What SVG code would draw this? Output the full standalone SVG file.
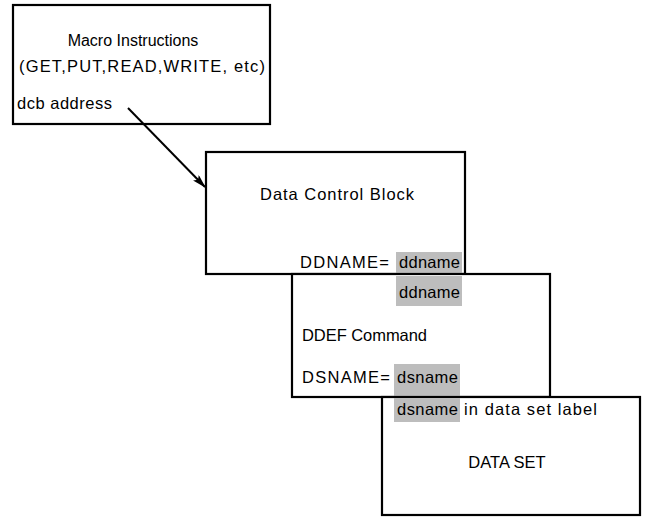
<svg xmlns="http://www.w3.org/2000/svg" width="645" height="518" viewBox="0 0 645 518">
<style>
.box{fill:#fff;stroke:#000;stroke-width:2.2}
.t{font-family:"Liberation Sans",Arial,sans-serif;font-size:16.5px;fill:#000}
.s{font-size:16px}
.hl{fill:#bdbdbd}
.c{stroke:#000;stroke-width:2;fill:none}
</style>
<defs>
<marker id="ah" markerWidth="14" markerHeight="8" refX="13" refY="4" orient="auto" markerUnits="userSpaceOnUse">
<path d="M0,0 L14,4 L0,8 L3,4 Z" fill="#000"/>
</marker>
</defs>
<rect width="645" height="518" fill="#fff"/>
<g id="macro">
<rect class="box" x="13" y="5" width="257" height="119"/>
<text class="t s" x="133" y="46" text-anchor="middle">Macro Instructions</text>
<text class="t" x="142" y="72" text-anchor="middle" textLength="246">(GET,PUT,READ,WRITE, etc)</text>
<text class="t" x="17" y="109" textLength="95">dcb address</text>
</g>
<g id="dcb">
<rect class="box" x="206" y="152" width="259" height="122"/>
<text class="t" x="337" y="200" text-anchor="middle" textLength="154">Data Control Block</text>
<text class="t" x="300" y="268" textLength="89">DDNAME=</text>
<rect class="hl" x="396" y="252" width="66" height="21"/>
<text class="t" x="399" y="268" textLength="61">ddname</text>
</g>
<g id="ddef">
<rect class="box" x="292" y="274" width="258" height="123"/>
<rect class="hl" x="396" y="276" width="66" height="30"/>
<text class="t" x="399" y="298" textLength="61">ddname</text>
<text class="t" x="302" y="341" textLength="125">DDEF Command</text>
<text class="t" x="302" y="383" textLength="88">DSNAME=</text>
<rect class="hl" x="394" y="364" width="66" height="32"/>
<text class="t" x="397" y="383" textLength="61">dsname</text>
</g>
<g id="dataset">
<rect class="box" x="382" y="397" width="258" height="118"/>
<rect class="hl" x="394" y="398" width="66" height="24"/>
<text class="t" x="397" y="415" textLength="61">dsname</text>
<text class="t" x="464" y="415" textLength="133">in data set label</text>
<text class="t" x="507" y="468" text-anchor="middle">DATA SET</text>
</g>
<g id="connectors">
<line class="c" x1="128" y1="108" x2="205" y2="187" marker-end="url(#ah)"/>
</g>
</svg>
